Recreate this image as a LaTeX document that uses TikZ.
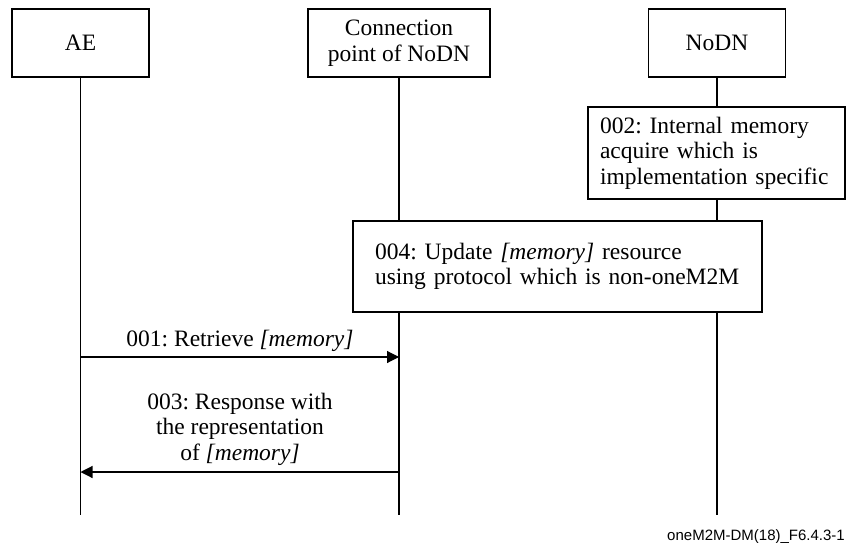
\documentclass[tikz,border=0pt]{standalone}
\usepackage{fontspec}
\setmainfont{Liberation Serif}
\newfontfamily\footfont{Liberation Sans}
\usetikzlibrary{arrows.meta}
\begin{document}
\frenchspacing
\begin{tikzpicture}[x=1pt,y=-1pt,
  every node/.style={font=\fontsize{23.5}{25.5}\selectfont\frenchspacing},
  actor/.style={draw, line width=1.3pt, fill=white, minimum width=137pt, minimum height=68pt, inner sep=0pt, align=center},
  note/.style={draw, line width=1.3pt, fill=white, inner ysep=0pt, align=left},
  life/.style={line width=1.1pt},
  msg/.style={line width=1.1pt, -{Triangle[length=12pt,width=12pt]}},
  lbl/.style={align=center, inner sep=0pt}]
\useasboundingbox (0,0) rectangle (848,543);
% actors
\node[actor] (ae) at (80.5,43) {AE};
\node[actor, minimum width=182pt, font=\fontsize{23.5}{26.5}\selectfont] (cp) at (399,43) {Connection\\point of NoDN};
\node[actor] (nodn) at (717,43) {NoDN};
% lifeline ends
\coordinate (aeEnd) at (80.5,515);
\coordinate (cpEnd) at (399,515);
\coordinate (nodnEnd) at (717,515);
\draw[life] (ae.south) -- (aeEnd);
\draw[life] (cp.south) -- (cpEnd);
\draw[life] (nodn.south) -- (nodnEnd);
% notes
\node[note, minimum width=257pt, minimum height=92pt, inner xsep=12pt, text width=233pt] (n002) at (716.5,153)
  {002: Internal memory\\acquire which is\\implementation specific};
\node[note, minimum width=409pt, minimum height=91pt, inner xsep=22pt, text width=365pt] (n004) at (557.5,266.5)
  {004: Update \textit{[memory]} resource\\using protocol which is non-oneM2M};
% messages
\coordinate (m1) at (0,357);
\coordinate (m3) at (0,472);
\draw[msg] (ae.south |- m1) -- (cp.south |- m1);
\draw[msg] (cp.south |- m3) -- (ae.south |- m3);
\node[lbl, anchor=base] (l1) at (240,346) {001: Retrieve \textit{[memory]}};
\node[lbl] (l3) at (240,429) {003: Response with\\the representation\\of \textit{[memory]}};
% figure id
\node[font=\footfont\fontsize{15}{18}\selectfont, anchor=base east, inner sep=0pt] (fig) at (845,540) {oneM2M-DM(18)\_F6.4.3-1};
\end{tikzpicture}
\end{document}
